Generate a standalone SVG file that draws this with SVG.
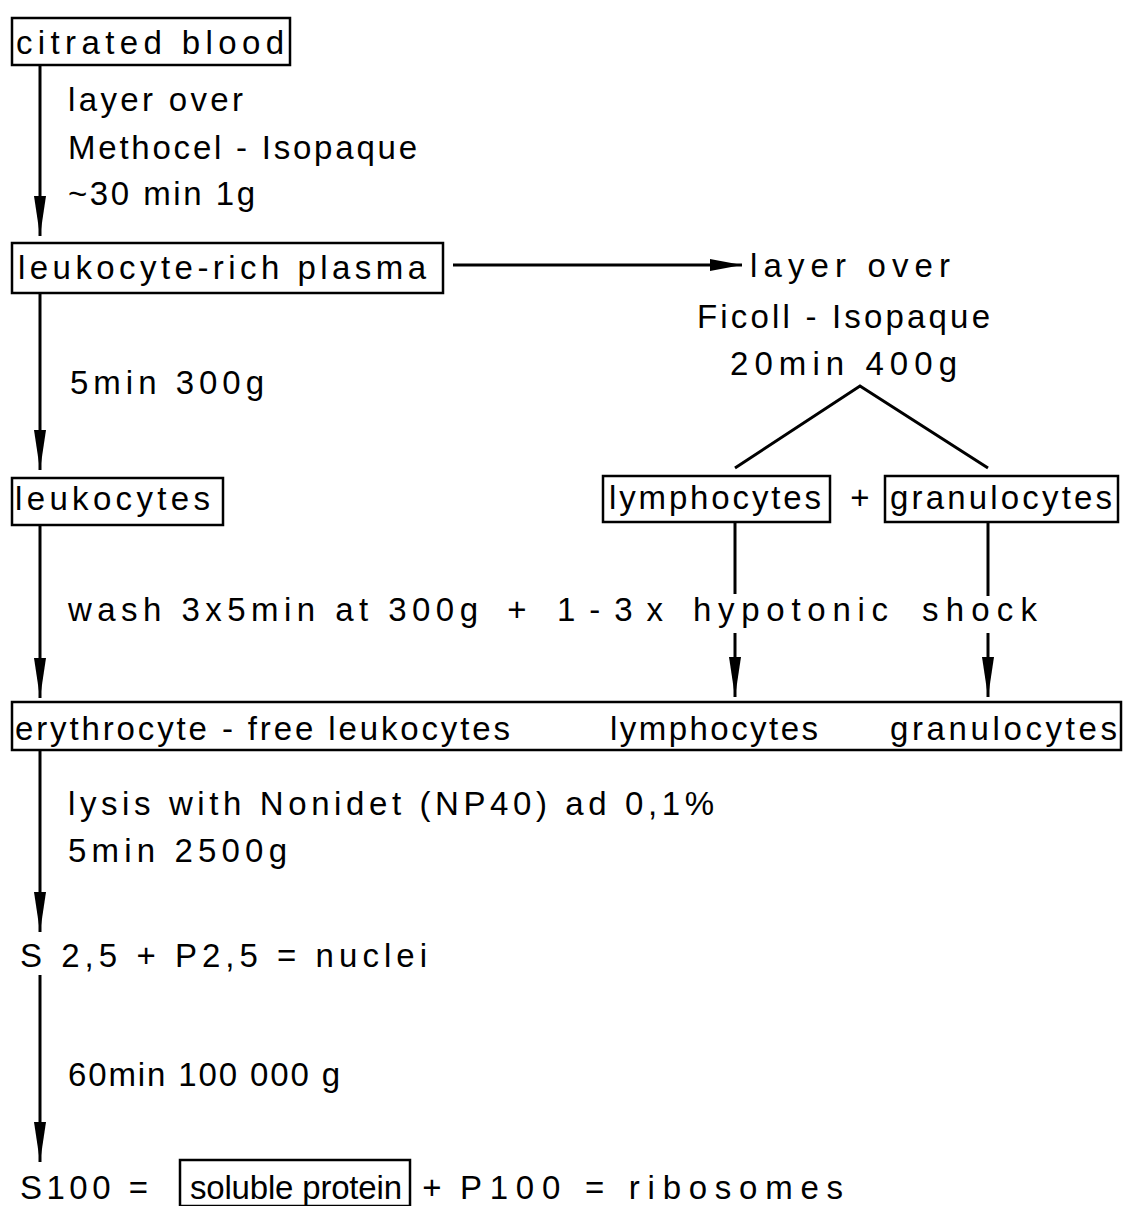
<svg xmlns="http://www.w3.org/2000/svg" width="1123" height="1206" viewBox="0 0 1123 1206">
<defs>
<style>
.t{font-family:"Liberation Sans",Arial,sans-serif;font-size:33px;fill:#000}
.box{fill:none;stroke:#000;stroke-width:2.5}
.ln{fill:none;stroke:#000;stroke-width:3}
</style>
<marker id="ah" viewBox="0 0 40 12" refX="40" refY="6" markerWidth="40" markerHeight="12" markerUnits="userSpaceOnUse" orient="auto">
<path d="M0,0 L40,6 L0,12 Z" fill="#000"/>
</marker>
<marker id="ahh" viewBox="0 0 32 12" refX="32" refY="6" markerWidth="32" markerHeight="12" markerUnits="userSpaceOnUse" orient="auto">
<path d="M0,0 L32,6 L0,12 Z" fill="#000"/>
</marker>
</defs>
<rect width="1123" height="1206" fill="#fff"/>

<g id="connectors">
<line class="ln" x1="40" y1="65" x2="40" y2="236" marker-end="url(#ah)"/>
<line class="ln" x1="453" y1="265" x2="742" y2="265" marker-end="url(#ahh)"/>
<line class="ln" x1="40" y1="293" x2="40" y2="470" marker-end="url(#ah)"/>
<polyline class="ln" points="735,468 860,386 988,468"/>
<line class="ln" x1="735" y1="522" x2="735" y2="594"/>
<line class="ln" x1="735" y1="633" x2="735" y2="697" marker-end="url(#ah)"/>
<line class="ln" x1="988" y1="522" x2="988" y2="596"/>
<line class="ln" x1="988" y1="633" x2="988" y2="697" marker-end="url(#ah)"/>
<line class="ln" x1="40" y1="525" x2="40" y2="698" marker-end="url(#ah)"/>
<line class="ln" x1="40" y1="750" x2="40" y2="932" marker-end="url(#ah)"/>
<line class="ln" x1="40" y1="975" x2="40" y2="1162" marker-end="url(#ah)"/>
</g>

<g id="citrated-blood">
<rect class="box" x="12" y="18" width="278" height="47"/>
<text class="t" x="16" y="54" textLength="268" lengthAdjust="spacing">citrated blood</text>
</g>

<g id="step1-label">
<text class="t" x="68" y="111" textLength="175" lengthAdjust="spacing">layer over</text>
<text class="t" x="68" y="159" textLength="349" lengthAdjust="spacing">Methocel - Isopaque</text>
<text class="t" x="68" y="205" textLength="187" lengthAdjust="spacing">~30 min 1g</text>
</g>

<g id="leukocyte-rich-plasma">
<rect class="box" x="12" y="243" width="431" height="50"/>
<text class="t" x="18" y="279" textLength="408" lengthAdjust="spacing">leukocyte-rich plasma</text>
</g>

<g id="ficoll-step">
<text class="t" x="750" y="277" textLength="200" lengthAdjust="spacing">layer over</text>
<text class="t" x="697" y="328" textLength="293" lengthAdjust="spacing">Ficoll - Isopaque</text>
<text class="t" x="730" y="375" textLength="227" lengthAdjust="spacing">20min  400g</text>
</g>

<g id="step2-label">
<text class="t" x="70" y="394" textLength="194" lengthAdjust="spacing">5min 300g</text>
</g>

<g id="leukocytes">
<rect class="box" x="12" y="478" width="211" height="47"/>
<text class="t" x="15" y="510" textLength="195" lengthAdjust="spacing">leukocytes</text>
</g>

<g id="lymphocytes-box">
<rect class="box" x="603" y="476" width="227" height="46"/>
<text class="t" x="609" y="509" textLength="212" lengthAdjust="spacing">lymphocytes</text>
</g>

<g id="plus1">
<text class="t" x="860" y="509" text-anchor="middle">+</text>
</g>

<g id="granulocytes-box">
<rect class="box" x="885" y="476" width="233" height="46"/>
<text class="t" x="890" y="509" textLength="222" lengthAdjust="spacing">granulocytes</text>
</g>

<g id="wash-label">
<text class="t" x="68" y="621" textLength="410" lengthAdjust="spacing">wash 3x5min at 300g</text>
<text class="t" x="517" y="621" text-anchor="middle">+</text>
<text class="t" x="557" y="621" textLength="106" lengthAdjust="spacing">1-3x</text>
<text class="t" x="693" y="621" textLength="195" lengthAdjust="spacing">hypotonic</text>
<text class="t" x="922" y="621" textLength="115" lengthAdjust="spacing">shock</text>
</g>

<g id="erythrocyte-free">
<rect class="box" x="12" y="702" width="1109" height="48"/>
<text class="t" x="15" y="740" textLength="495" lengthAdjust="spacing">erythrocyte - free leukocytes</text>
<text class="t" x="610" y="740" textLength="208" lengthAdjust="spacing">lymphocytes</text>
<text class="t" x="890" y="740" textLength="227" lengthAdjust="spacing">granulocytes</text>
</g>

<g id="lysis-label">
<text class="t" x="68" y="815" textLength="646" lengthAdjust="spacing">lysis with Nonidet (NP40) ad 0,1%</text>
<text class="t" x="68" y="862" textLength="219" lengthAdjust="spacing">5min 2500g</text>
</g>

<g id="nuclei">
<text class="t" x="20" y="967" textLength="407" lengthAdjust="spacing">S 2,5 + P2,5 = nuclei</text>
</g>

<g id="ultra-label">
<text class="t" x="68" y="1086" textLength="272" lengthAdjust="spacing">60min 100 000 g</text>
</g>

<g id="s100">
<text class="t" x="20" y="1199" textLength="128" lengthAdjust="spacing">S100 =</text>
</g>

<g id="soluble-protein">
<rect class="box" x="180" y="1160" width="230" height="46"/>
<text class="t" x="190" y="1199" textLength="212" lengthAdjust="spacing">soluble protein</text>
</g>

<g id="ribosomes">
<text class="t" x="432" y="1199" text-anchor="middle">+</text>
<text class="t" x="460" y="1199" textLength="383" lengthAdjust="spacing">P100 = ribosomes</text>
</g>
</svg>
